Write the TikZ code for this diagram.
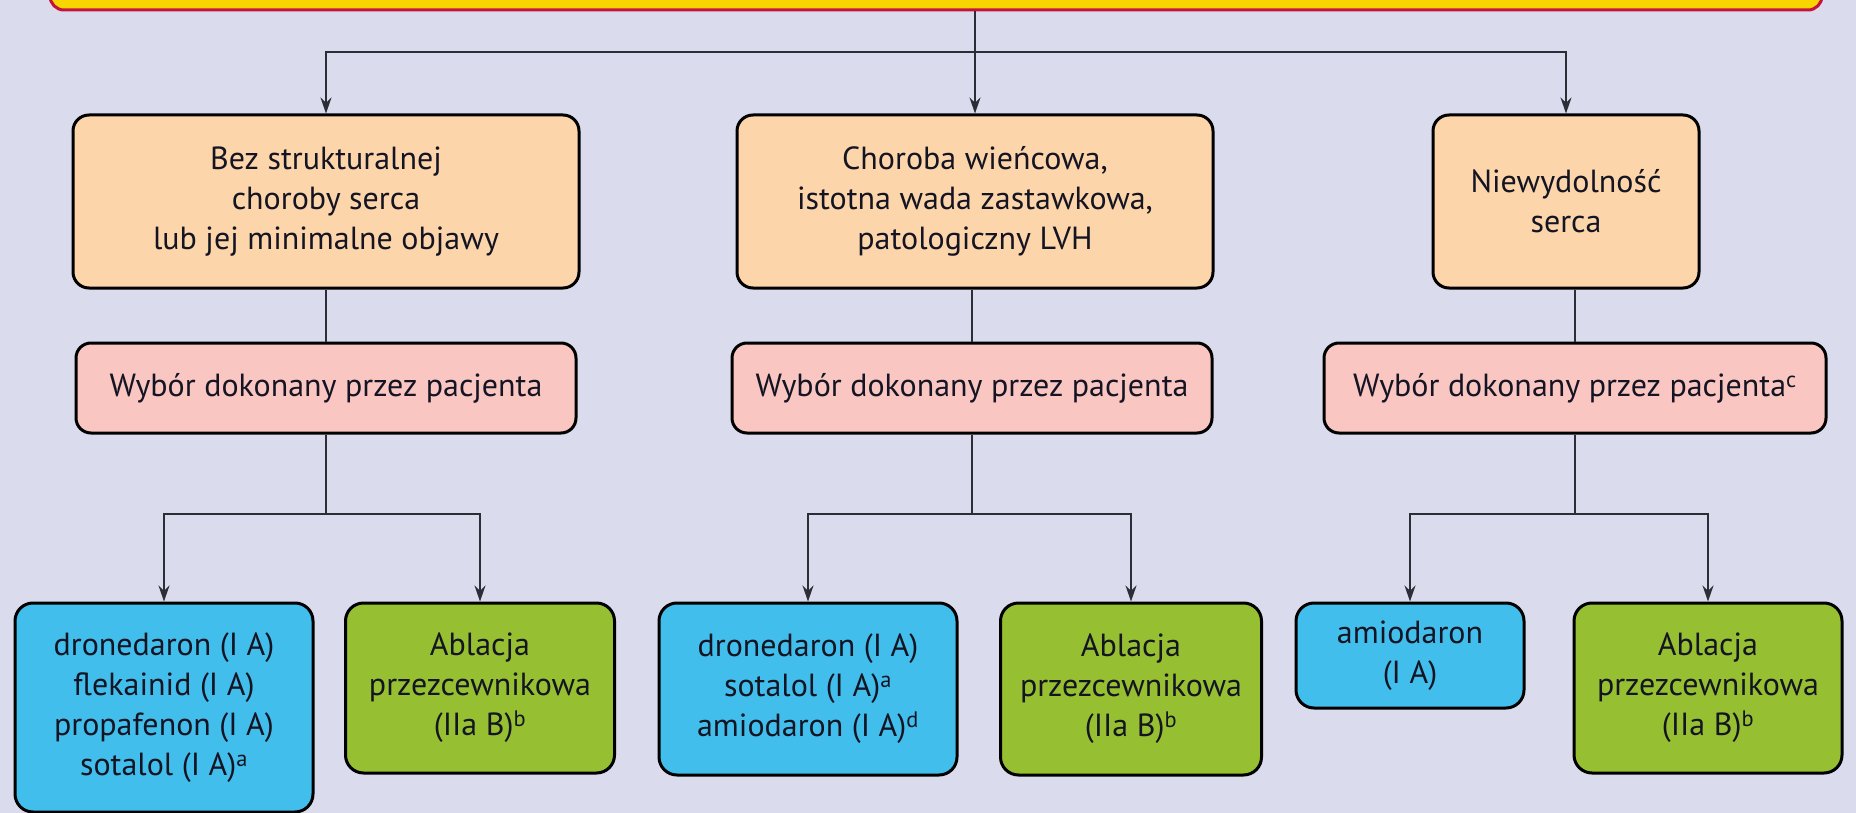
\documentclass[tikz,border=0pt]{standalone}
\usepackage{fontspec}
\setmainfont{PT Sans}
\usetikzlibrary{arrows.meta}

\definecolor{pagebg}{RGB}{218,219,236}
\definecolor{barfill}{RGB}{248,213,0}
\definecolor{barline}{RGB}{196,20,60}
\definecolor{orangefill}{RGB}{252,213,170}
\definecolor{pinkfill}{RGB}{249,198,194}
\definecolor{bluefill}{RGB}{66,190,236}
\definecolor{greenfill}{RGB}{150,192,49}
\definecolor{inkcol}{RGB}{20,20,35}
\definecolor{wirecol}{RGB}{45,45,55}

\tikzset{
  basebox/.style={draw=black, line width=3pt, rounded corners=16pt,
    inner sep=0pt, align=center, text=inkcol,
    font=\fontsize{32}{40}\selectfont},
  orangebox/.style={basebox, fill=orangefill},
  pinkbox/.style={basebox, fill=pinkfill, rounded corners=15pt},
  bluebox/.style={basebox, fill=bluefill, rounded corners=18pt},
  greenbox/.style={basebox, fill=greenfill, rounded corners=18pt},
  topbar/.style={draw=barline, line width=3pt, fill=barfill, rounded corners=14pt,
    inner sep=0pt},
  wire/.style={draw=wirecol, line width=1.8pt},
  arrowwire/.style={wire, -{Stealth[length=16pt,width=11pt]}}
}

\begin{document}
\begin{tikzpicture}[x=1pt,y=-1pt]
  % page area and background
  \useasboundingbox (0,0) rectangle (1856,813);
  \fill[pagebg] (0,0) rectangle (1856,813);

  \begin{scope}
    \clip (0,0) rectangle (1856,813);
    % heading bar (its upper part lies above the page)
    \node[topbar, minimum width=1772pt, minimum height=60pt] (top) at (936,-20) {};

    % first level
    \node[orangebox, minimum width=506pt, minimum height=173pt] (oA) at (326,201.5)
      {Bez strukturalnej\\choroby serca\\lub jej minimalne objawy};
    \node[orangebox, minimum width=476pt, minimum height=173pt] (oB) at (975,201.5)
      {Choroba wieńcowa,\\istotna wada zastawkowa,\\patologiczny LVH};
    \node[orangebox, minimum width=266pt, minimum height=173pt] (oC) at (1566,201.5)
      {Niewydolność\\serca};

    % patient choice
    \node[pinkbox, minimum width=500pt, minimum height=90pt] (pA) at (326,388)
      {Wybór dokonany przez pacjenta};
    \node[pinkbox, minimum width=480pt, minimum height=90pt] (pB) at (972,388)
      {Wybór dokonany przez pacjenta};
    \node[pinkbox, minimum width=502pt, minimum height=90pt] (pC) at (1575,388)
      {Wybór dokonany przez pacjenta\textsuperscript{c}};

    % treatment options
    \node[bluebox, minimum width=298pt, minimum height=209pt] (bA) at (164,707.5)
      {dronedaron (I A)\\flekainid (I A)\\propafenon (I A)\\sotalol (I A)\textsuperscript{a}};
    \node[greenbox, minimum width=269pt, minimum height=170pt] (gA) at (480,688)
      {Ablacja\\przezcewnikowa\\(IIa B)\textsuperscript{b}};
    \node[bluebox, minimum width=298pt, minimum height=172pt] (bB) at (808,689)
      {dronedaron (I A)\\sotalol (I A)\textsuperscript{a}\\amiodaron (I A)\textsuperscript{d}};
    \node[greenbox, minimum width=261pt, minimum height=172pt] (gB) at (1131,689)
      {Ablacja\\przezcewnikowa\\(IIa B)\textsuperscript{b}};
    \node[bluebox, minimum width=228pt, minimum height=105pt] (bC) at (1410,655.5)
      {amiodaron\\(I A)};
    \node[greenbox, minimum width=268pt, minimum height=170pt] (gC) at (1708,688)
      {Ablacja\\przezcewnikowa\\(IIa B)\textsuperscript{b}};

    % connectors from the heading
    \coordinate (j0) at (oB.north |- 0,52);
    \draw[arrowwire] (top.south -| oB.north) -- (oB.north);
    \draw[arrowwire] (j0) -| (oA.north);
    \draw[arrowwire] (j0) -| (oC.north);

    % first level to patient choice
    \draw[wire] (oA.south) -- (pA.north);
    \draw[wire] (oB.south -| pB.north) -- (pB.north);
    \draw[wire] (oC.south -| pC.north) -- (pC.north);

    % patient choice to options
    \coordinate (jA) at (pA.south |- 0,514);
    \coordinate (jB) at (pB.south |- 0,514);
    \coordinate (jC) at (pC.south |- 0,514);
    \draw[wire] (pA.south) -- (jA);
    \draw[wire] (pB.south) -- (jB);
    \draw[wire] (pC.south) -- (jC);
    \draw[arrowwire] (jA) -| (bA.north);
    \draw[arrowwire] (jA) -| (gA.north);
    \draw[arrowwire] (jB) -| (bB.north);
    \draw[arrowwire] (jB) -| (gB.north);
    \draw[arrowwire] (jC) -| (bC.north);
    \draw[arrowwire] (jC) -| (gC.north);
  \end{scope}
\end{tikzpicture}
\end{document}
